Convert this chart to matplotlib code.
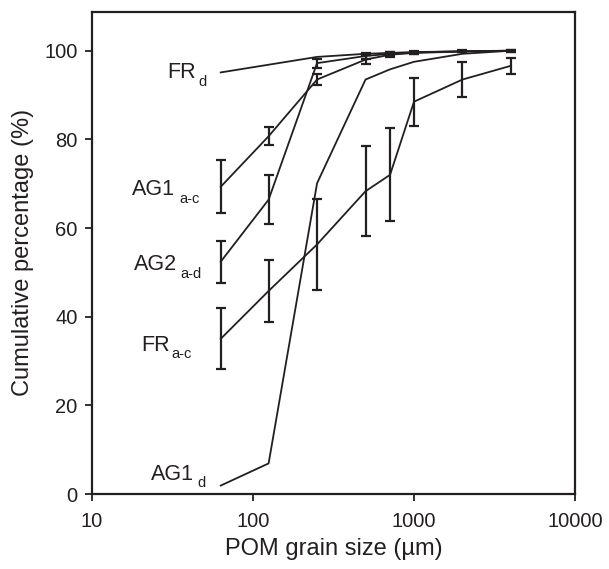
import matplotlib
matplotlib.use("Agg")
import matplotlib.pyplot as plt
from matplotlib.ticker import FixedLocator, FixedFormatter, NullLocator

plt.rcParams['font.family'] = ['Liberation Sans', 'DejaVu Sans']

ink = '#231f20'
W, H = 609, 569

# grain size classes (um)
sizes = [63, 125, 250, 500, 710, 1000, 2000, 4000]

# FR d: no error bars
frd_x = [63, 250, 500, 1000, 4000]
frd_y = [95.1, 98.6, 99.3, 99.7, 100.0]

ag1ac_y = [69.3, 80.7, 93.5, 98.0, 99.1, 99.5, 99.8, 100.0]
ag1ac_e = [6.0, 2.0, 1.2, 1.0, 0.5, 0.3, 0.2, 0.2]

ag2ad_y = [52.4, 66.4, 97.2, 98.8, 99.3, 99.6, 99.9, 100.0]
ag2ad_e = [4.7, 5.5, 1.0, 0.6, 0.4, 0.3, 0.2, 0.2]

frac_y = [35.0, 45.8, 56.3, 68.3, 72.0, 88.5, 93.5, 96.6]
frac_e = [6.9, 7.0, 10.2, 10.2, 10.5, 5.4, 4.0, 1.8]

ag1d_y = [1.9, 6.9, 70.1, 93.5, 95.8, 97.5, 99.3, 100.0]

series_names = ['FR', 'AG1', 'AG2', 'FR', 'AG1']
series_subs = ['d', 'a-c', 'a-d', 'a-c', 'd']

x_ticks = [10, 100, 1000, 10000]
y_ticks = [0, 20, 40, 60, 80, 100]

fig = plt.figure(figsize=(W / 100, H / 100), dpi=100)
ax = fig.add_axes([92 / W, 1 - 494 / H, 483 / W, 482.3 / H])

lw = 1.3
ax.plot(frd_x, frd_y, color=ink, lw=lw)
ax.plot(sizes, ag1d_y, color=ink, lw=lw)
for yv, ev in [(ag1ac_y, ag1ac_e), (ag2ad_y, ag2ad_e), (frac_y, frac_e)]:
    ax.errorbar(sizes, yv, yerr=ev, color=ink, lw=lw, elinewidth=1.6,
                capsize=3.8, capthick=1.6)

# label placement in pixels: (main left, main baseline, sub left, sub baseline)
label_pos = [(167, 77.7, 198, 86),
             (132, 195, 179.5, 202.7),
             (133.5, 270, 180.5, 278),
             (141.5, 350.7, 171.5, 358),
             (151, 480, 197, 486.7)]
for name, sub, (mx, my, sx, sy) in zip(series_names, series_subs, label_pos):
    fig.text(mx / W, 1 - my / H, name, fontsize=15.5, color=ink,
             ha='left', va='baseline')
    fig.text(sx / W, 1 - sy / H, sub, fontsize=10.5, color=ink,
             ha='left', va='baseline')

ax.set_xscale('log')
ax.set_xlim(10, 10000)
ax.set_ylim(0, 108.8)
ax.xaxis.set_major_locator(FixedLocator(x_ticks))
ax.xaxis.set_major_formatter(FixedFormatter([str(v) for v in x_ticks]))
ax.xaxis.set_minor_locator(NullLocator())
ax.set_yticks(y_ticks)

for s in ax.spines.values():
    s.set_linewidth(1.6)
    s.set_color(ink)
ax.tick_params(direction='out', length=5, width=1.3, labelsize=14.5, colors=ink)
ax.tick_params(axis='x', pad=8)
ax.tick_params(axis='y', pad=5.5)

ax.set_xlabel('POM grain size (µm)', fontsize=17, color=ink, labelpad=5)
ax.set_ylabel('Cumulative percentage (%)', fontsize=17, color=ink, labelpad=7)

fig.savefig('out.png', dpi=100)
